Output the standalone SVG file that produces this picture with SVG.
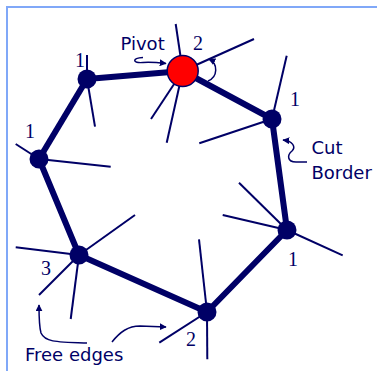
<svg xmlns="http://www.w3.org/2000/svg" width="377" height="371" viewBox="0 0 377 371">
<style>
.thick{stroke:#000066;stroke-width:6;stroke-linecap:round;fill:none}
.thin{stroke:#000066;stroke-width:2;fill:none}
.node{fill:#000066}
.num{font-family:"Liberation Serif",serif;font-size:20px;fill:#000066;text-anchor:middle}
.lbl{font-family:"DejaVu Sans",sans-serif;font-size:18px;fill:#000066}
.arr{stroke:#000066;stroke-width:1.5;fill:none;marker-end:url(#ah)}
</style>
<defs>
<marker id="ah" viewBox="0 0 10 10" refX="9" refY="5" markerWidth="7" markerHeight="7" markerUnits="userSpaceOnUse" orient="auto">
<path d="M0,0 L10,5 L0,10 z" fill="#000066"/>
</marker>
</defs>
<rect x="7" y="7" width="400" height="400" fill="#ffffff" stroke="#80a8f8" stroke-width="2"/>
<g id="free-edges">
<line class="thin" x1="182.7" y1="71" x2="175.7" y2="24"/>
<line class="thin" x1="182.7" y1="71" x2="254" y2="39"/>
<line class="thin" x1="182.7" y1="71" x2="151" y2="119"/>
<line class="thin" x1="182.7" y1="71" x2="166.7" y2="142.7"/>
<line class="thin" x1="87" y1="79" x2="87" y2="55"/>
<line class="thin" x1="87" y1="79" x2="95" y2="126.7"/>
<line class="thin" x1="39" y1="159" x2="15.7" y2="144"/>
<line class="thin" x1="39" y1="159" x2="110.7" y2="166.7"/>
<line class="thin" x1="79" y1="255" x2="135" y2="215"/>
<line class="thin" x1="79" y1="255" x2="15.7" y2="247.3"/>
<line class="thin" x1="79" y1="255" x2="39" y2="295"/>
<line class="thin" x1="79" y1="255" x2="70.7" y2="319"/>
<line class="thin" x1="207" y1="312" x2="199" y2="239.3"/>
<line class="thin" x1="207" y1="312" x2="159.3" y2="342.7"/>
<line class="thin" x1="207" y1="312" x2="207.3" y2="359.3"/>
<line class="thin" x1="287" y1="230" x2="239" y2="182.7"/>
<line class="thin" x1="287" y1="230" x2="222.7" y2="215"/>
<line class="thin" x1="287" y1="230" x2="342.7" y2="255.3"/>
<line class="thin" x1="272" y1="119" x2="286.7" y2="55.7"/>
<line class="thin" x1="272" y1="119" x2="199.3" y2="143.3"/>
</g>
<g id="connectors">
<line class="thick" x1="182.7" y1="71" x2="87" y2="79"/>
<line class="thick" x1="87" y1="79" x2="39" y2="159"/>
<line class="thick" x1="39" y1="159" x2="79" y2="255"/>
<line class="thick" x1="79" y1="255" x2="207" y2="312"/>
<line class="thick" x1="207" y1="312" x2="287" y2="230"/>
<line class="thick" x1="287" y1="230" x2="272" y2="119"/>
<line class="thick" x1="272" y1="119" x2="182.7" y2="71"/>
</g>
<g id="node-a"><circle class="node" cx="87" cy="79" r="9.5"/><text class="num" x="80" y="67">1</text></g>
<g id="node-b"><circle class="node" cx="39" cy="159" r="9.5"/><text class="num" x="30" y="138">1</text></g>
<g id="node-c"><circle class="node" cx="79" cy="255" r="9.5"/><text class="num" x="46" y="275">3</text></g>
<g id="node-d"><circle class="node" cx="207" cy="312" r="9.5"/><text class="num" x="191" y="346">2</text></g>
<g id="node-e"><circle class="node" cx="287" cy="230" r="9.5"/><text class="num" x="293" y="266">1</text></g>
<g id="node-f"><circle class="node" cx="272" cy="119" r="9.5"/><text class="num" x="295" y="106">1</text></g>
<g id="pivot">
<circle cx="182.7" cy="71" r="15.5" fill="#ff0000" stroke="#000066" stroke-width="1.5"/>
<text class="num" x="198" y="50">2</text>
<path class="arr" d="M208,81 A12,12 0 0 0 209,59"/>
</g>
<g id="annotations">
<text class="lbl" x="120.5" y="50">Pivot</text>
<path class="arr" d="M143,57.5 C132,58 132,63.5 143,62.5 C150,62 157,62.5 166,63.5"/>
<text class="lbl" x="311.5" y="154">Cut</text>
<text class="lbl" x="311.5" y="179">Border</text>
<path class="arr" d="M307,162 L296,162 C287,162 287,155 292,151 C296,147 293,141 283,140"/>
<text class="lbl" x="25" y="361">Free edges</text>
<path class="arr" d="M87,343 C55,342 45,342 41,333 C39,326 39,315 39,305"/>
<path class="arr" d="M112,342 C120,332 128,326 140,326 L166,327"/>
</g>
</svg>
